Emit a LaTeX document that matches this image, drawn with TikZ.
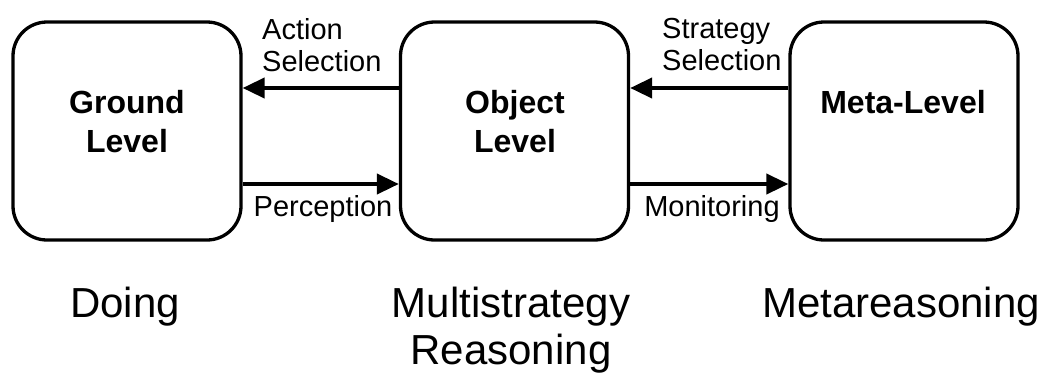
\documentclass[tikz,border=0pt]{standalone}
\usepackage{fontspec}
\setmainfont{Liberation Sans}
\usetikzlibrary{arrows.meta}
\begin{document}
\begin{tikzpicture}[x=1pt,y=-1pt,
  levelbox/.style={draw=black,line width=3.3pt,rounded corners=34pt,minimum width=228pt,minimum height=218pt,inner sep=0pt,fill=white},
  boxtext/.style={font=\fontsize{32}{39}\selectfont\bfseries,align=center,inner sep=0pt},
  arrlabel/.style={font=\fontsize{29}{32}\selectfont,align=left,inner sep=0pt},
  bottomtext/.style={font=\fontsize{42}{47}\selectfont,align=center,inner sep=0pt},
  arr/.style={line width=4pt,-{Triangle[length=22pt,width=20pt]}}]
\useasboundingbox[fill=white] (0,0) rectangle (1049,376);
\node[levelbox] (ground) at (127,131) {};
\node[levelbox] (object) at (514.5,131) {};
\node[levelbox] (meta) at (904,131) {};
\node[boxtext] (groundt) at (127,122) {Ground\\Level};
\node[boxtext] (objectt) at (515,122) {Object\\Level};
\node[boxtext] (metat) at (903,102) {Meta-Level};
\coordinate (yup) at (0,88);
\coordinate (ylo) at (0,184);
\draw[arr] (object.west |- yup) -- (ground.east |- yup);
\draw[arr] (ground.east |- ylo) -- (object.west |- ylo);
\draw[arr] (meta.west |- yup) -- (object.east |- yup);
\draw[arr] (object.east |- ylo) -- (meta.west |- ylo);
\node[arrlabel,anchor=west] (actsel) at (262,45) {Action\\Selection};
\node[arrlabel,anchor=west] (stratsel) at (662,45) {Strategy\\Selection};
\node[arrlabel] (perc) at (323,209) {Perception};
\node[arrlabel] (monit) at (712,209) {Monitoring};
\node[bottomtext] (doing) at (125,307) {Doing};
\node[bottomtext] (multi) at (511,330) {Multistrategy\\Reasoning};
\node[bottomtext] (metar) at (901,307) {Metareasoning};
\end{tikzpicture}
\end{document}
